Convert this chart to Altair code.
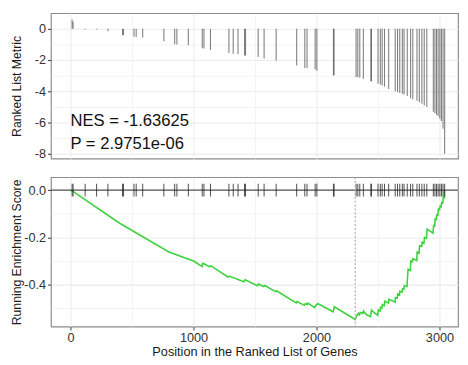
import altair as alt
import pandas as pd

# Gene-set hit positions in the ranked list and their ranked-list metric
hit_pos = [13, 21, 119, 212, 304, 423, 431, 516, 534, 587, 759, 847, 865, 958,
           1071, 1085, 1138, 1288, 1323, 1362, 1415, 1423, 1526, 1574, 1672,
           1839, 1905, 1923, 1989, 2003, 2138, 2143, 2322, 2336, 2352, 2381,
           2442, 2447, 2500, 2519, 2534, 2553, 2587, 2640, 2659, 2677, 2698,
           2712, 2738, 2765, 2783, 2817, 2836, 2857, 2876, 2897, 2950, 2963,
           2976, 2989, 3003, 3016, 3029, 3042]
hit_metric = [0.6, 0.45, -0.05, -0.05, -0.15, -0.4, -0.42, -0.5, -0.52, -0.55,
              -0.8, -0.98, -1.0, -1.05, -1.25, -1.26, -1.35, -1.55, -1.6, -1.62,
              -1.7, -1.71, -1.8, -1.9, -2.05, -2.35, -2.5, -2.52, -2.6, -2.68,
              -2.97, -2.98, -3.08, -3.1, -3.12, -3.2, -3.35, -3.36, -3.52, -3.57,
              -3.62, -3.7, -3.85, -4.0, -4.05, -4.1, -4.15, -4.2, -4.3, -4.45,
              -4.5, -4.6, -4.7, -4.8, -4.9, -5.0, -5.3, -5.4, -5.5, -5.6, -5.75,
              -5.9, -6.4, -8.0]

# Running enrichment score
es_pos = [0, 20, 400, 800, 1000, 1070, 1075, 1090, 1130, 1140, 1280, 1290, 1410,
          1420, 1520, 1530, 1570, 1580, 1667, 1675, 1835, 1842, 1900, 1910, 1925,
          1930, 1985, 1995, 2005, 2010, 2135, 2145, 2315, 2325, 2340, 2350, 2355,
          2378, 2382, 2407, 2440, 2447, 2474, 2498, 2502, 2517, 2520, 2532, 2535,
          2551, 2555, 2585, 2590, 2620, 2640, 2642, 2657, 2660, 2675, 2678, 2696,
          2700, 2710, 2714, 2736, 2740, 2745, 2763, 2767, 2781, 2785, 2815, 2819,
          2834, 2838, 2855, 2859, 2874, 2878, 2895, 2899, 2948, 2952, 2961, 2965,
          2974, 2978, 2987, 2991, 3001, 3005, 3014, 3018, 3027, 3031, 3040, 3042]
es_val = [0.0, -0.005, -0.140, -0.262, -0.300, -0.323, -0.310, -0.313, -0.325,
          -0.320, -0.368, -0.364, -0.388, -0.380, -0.405, -0.398, -0.408, -0.404,
          -0.430, -0.426, -0.478, -0.472, -0.488, -0.480, -0.484, -0.479, -0.498,
          -0.487, -0.484, -0.480, -0.515, -0.494, -0.548, -0.535, -0.522, -0.528,
          -0.518, -0.522, -0.512, -0.528, -0.536, -0.508, -0.521, -0.530, -0.508,
          -0.512, -0.496, -0.500, -0.485, -0.490, -0.470, -0.478, -0.462, -0.470,
          -0.474, -0.455, -0.458, -0.439, -0.443, -0.428, -0.432, -0.418, -0.420,
          -0.404, -0.408, -0.370, -0.335, -0.340, -0.300, -0.303, -0.290, -0.298,
          -0.262, -0.266, -0.235, -0.238, -0.220, -0.224, -0.200, -0.204, -0.165,
          -0.182, -0.150, -0.152, -0.122, -0.124, -0.105, -0.106, -0.080, -0.082,
          -0.068, -0.070, -0.052, -0.054, -0.030, -0.032, 0.0]

peak_pos = [2315]
ann_text = ["NES = -1.63625", "P = 2.9751e-06"]
ann_y = [-6.25, -7.69]
ann_x = [0, 0]

x_ticks = [0, 500, 1000, 1500, 2000, 2500, 3000]
top_ticks = [0, -1, -2, -3, -4, -5, -6, -7, -8]
bot_ticks = [0, -0.1, -0.2, -0.3, -0.4, -0.5]

hits = pd.DataFrame({"pos": hit_pos, "metric": hit_metric, "zero": [0] * len(hit_pos)})
es = pd.DataFrame({"pos": es_pos, "es": es_val})
ann = pd.DataFrame({"pos": ann_x, "metric": ann_y, "t": ann_text})
peak = pd.DataFrame({"pos": peak_pos})
zero_df = pd.DataFrame({"zero": [0]})

FONT = "Liberation Sans"
x_dom = [-159, 3151]
GRID = "#ebebeb"

x_major = "datum.value % 1000 == 0"

top_x = alt.X("pos:Q", scale=alt.Scale(domain=x_dom, nice=False, zero=False),
              axis=alt.Axis(values=x_ticks, labels=False, ticks=False, domain=False,
                            title=None, minExtent=0, maxExtent=0, gridColor=GRID,
                            gridWidth={"condition": {"test": x_major, "value": 1.1}, "value": 0.6}))
top_major = "datum.value % 2 == 0"
top_y_scale = alt.Scale(domain=[-8.31, 1.0], nice=False, zero=False)
top_y_axis = alt.Axis(values=top_ticks, title="Ranked List Metric",
                      labelExpr="datum.value == 0 ? '0' : datum.value == -2 ? '-2' : datum.value == -4 ? '-4' : datum.value == -6 ? '-6' : datum.value == -8 ? '-8' : ''",
                      labelOverlap=False,
                      tickOpacity={"condition": {"test": top_major, "value": 1}, "value": 0},
                      gridWidth={"condition": {"test": top_major, "value": 1.1}, "value": 0.6},
                      gridColor=GRID, tickSize=3.5, tickColor="#333333", labelPadding=2,
                      minExtent=26, maxExtent=26, titlePadding=2, domain=False)

bars = alt.Chart(hits).mark_rule(color="#4a4a4a", opacity=0.7, strokeWidth=1.1).encode(
    x=top_x,
    y=alt.Y("metric:Q", scale=top_y_scale, axis=top_y_axis),
    y2="zero:Q",
)
text = alt.Chart(ann).mark_text(align="left", baseline="alphabetic", fontSize=17,
                                font=FONT, color="#111111").encode(
    x=top_x, y=alt.Y("metric:Q", scale=top_y_scale, axis=top_y_axis), text="t:N")
top = alt.layer(bars, text).properties(width=417, height=149)

bot_x = alt.X("pos:Q", scale=alt.Scale(domain=x_dom, nice=False, zero=False),
              axis=alt.Axis(values=x_ticks, title="Position in the Ranked List of Genes",
                            labelExpr="(" + x_major + ") ? datum.label : ''",
                            labelOverlap=False,
                            tickOpacity={"condition": {"test": x_major, "value": 1}, "value": 0},
                            gridWidth={"condition": {"test": x_major, "value": 1.1}, "value": 0.6},
                            gridColor=GRID, tickSize=3.5, tickColor="#333333",
                            labelPadding=2, titlePadding=1, domain=False, format="d"))
bot_major = "datum.value == 0 || datum.value == -0.2 || datum.value == -0.4"
bot_y_scale = alt.Scale(domain=[-0.578, 0.055], nice=False, zero=False)
bot_y_axis = alt.Axis(values=bot_ticks, title="Running Enrichment Score",
                      labelExpr="datum.value == 0 ? '0.0' : datum.value == -0.2 ? '-0.2' : datum.value == -0.4 ? '-0.4' : ''",
                      labelOverlap=False,
                      tickOpacity={"condition": {"test": bot_major, "value": 1}, "value": 0},
                      gridWidth={"condition": {"test": bot_major, "value": 1.1}, "value": 0.6},
                      gridColor=GRID, tickSize=3.5, tickColor="#333333", labelPadding=2,
                      minExtent=26, maxExtent=26, titlePadding=2, domain=False)

line = alt.Chart(es).mark_line(color="#3fd23f", strokeWidth=1.6).encode(
    x=bot_x, y=alt.Y("es:Q", scale=bot_y_scale, axis=bot_y_axis))
zero_line = alt.Chart(zero_df).mark_rule(color="#555555", strokeWidth=1.2).encode(
    y=alt.Y("zero:Q", scale=bot_y_scale, axis=bot_y_axis))
ticks = alt.Chart(hits).mark_tick(orient="vertical", size=13, thickness=1.0,
                                  color="#222222", opacity=0.8).encode(
    x=bot_x, y=alt.Y("zero:Q", scale=bot_y_scale, axis=bot_y_axis))
peak_rule = alt.Chart(peak).mark_rule(color="#c9a3a3", strokeDash=[2, 2], strokeWidth=1.2).encode(
    x=bot_x)
bottom = alt.layer(line, zero_line, ticks, peak_rule).properties(width=417, height=153)

chart = alt.vconcat(top, bottom, spacing=14).properties(
    padding={"left": 2, "top": 0, "right": 0, "bottom": 0}
).configure_view(stroke="#8c8c8c", strokeWidth=1.2).configure_axis(
    labelFont=FONT, labelFontSize=13, labelColor="#333333",
    titleFont=FONT, titleFontSize=12.5, titleColor="#1a1a1a", titleFontWeight="normal"
).configure_axisX(titleFontSize=13)

chart.save("out.html", embed_options={"renderer": "svg", "actions": False})
